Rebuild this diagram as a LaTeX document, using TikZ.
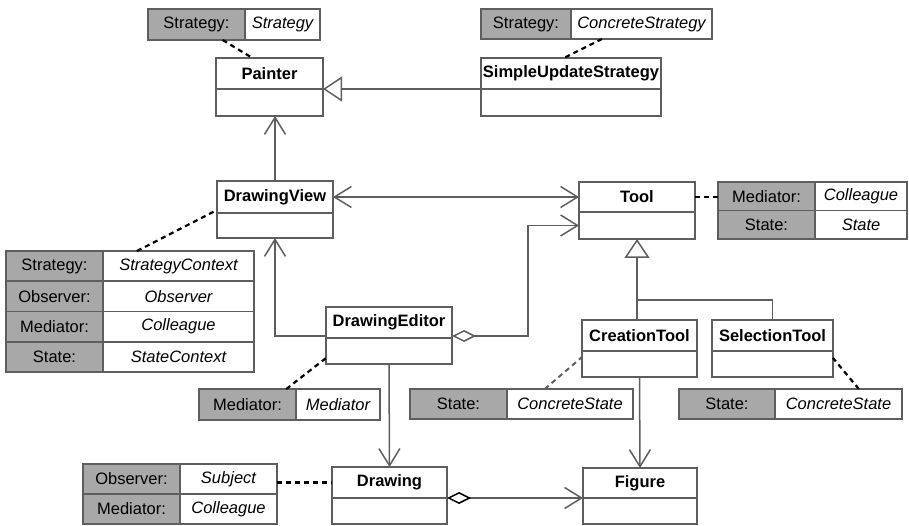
\documentclass[tikz,border=0pt]{standalone}
\usepackage{fontspec}
\setmainfont{Liberation Sans}
\usetikzlibrary{arrows.meta,calc}

\definecolor{edgegray}{HTML}{5E5E5E}
\definecolor{tagfill}{HTML}{A8A8A8}

\newcommand\labelfont{\fontsize{16.5}{19}\selectfont}

% class box: name, x, y, width, title height, body height, label
\newcommand\umlclass[7]{%
  \node[clstitle, minimum width=#4pt, minimum height=#5pt, anchor=north west] (#1) at (#2,#3) {#7};
  \node[clsbody, minimum width=#4pt, minimum height=#6pt, anchor=north] (#1-b) at (#1.south) {};
}
% tagged-value row: name, x, y, key width, value width, height, key, value
\newcommand\tagrow[8]{%
  \node[tagkey, minimum width=#4pt, minimum height=#6pt, anchor=north west] (#1k) at (#2,#3) {#7};
  \node[tagval, minimum width=#5pt, minimum height=#6pt, anchor=north west] (#1v) at (#1k.north east) {\itshape #8};
}

\tikzset{
  cell/.style={draw=edgegray, line width=1.5pt, inner sep=0pt, outer sep=0pt},
  clstitle/.style={cell, fill=white, font=\labelfont\bfseries},
  clsbody/.style={cell, fill=white},
  tagkey/.style={cell, fill=tagfill, font=\labelfont},
  tagval/.style={cell, fill=white, font=\labelfont},
  link/.style={draw=edgegray, line width=1.5pt},
  nav/.style={link, -{Straight Barb[length=17pt,width=21pt]}},
  bothnav/.style={link, {Straight Barb[length=17pt,width=21pt]}-{Straight Barb[length=17pt,width=21pt]}},
  inherit/.style={link, -{Triangle[open,length=19pt,width=25pt]}},
  tagline/.style={draw=black, line width=2.2pt, dash pattern=on 5pt off 4pt},
  lighttagline/.style={draw=edgegray, line width=2pt, dash pattern=on 5pt off 4pt},
}

\begin{document}
\begin{tikzpicture}[x=1pt, y=-1pt]
\useasboundingbox (0,0) rectangle (909,526);

% classes
\umlclass{painter}{216}{58}{107}{31}{27}{Painter}
\umlclass{sus}{481}{58}{180}{31}{27}{SimpleUpdateStrategy}
\umlclass{dv}{217}{181}{116}{32}{25}{DrawingView}
\umlclass{tool}{579}{182}{116}{30}{27}{Tool}
\umlclass{de}{326}{307}{126}{31}{26}{DrawingEditor}
\umlclass{ct}{582}{320}{115}{31}{26}{CreationTool}
\umlclass{st}{712}{320}{121}{31}{26}{SelectionTool}
\umlclass{drawing}{332}{467}{115}{31}{26}{Drawing}
\umlclass{fig}{583}{468}{114}{30}{26}{Figure}

% tagged values
\tagrow{ta}{148}{9}{97}{75}{31}{Strategy:}{Strategy}
\tagrow{tb}{481}{9}{90}{141}{30}{Strategy:}{ConcreteStrategy}
\tagrow{tca}{6}{251}{97}{151}{30.25}{Strategy:}{StrategyContext}
\tagrow{tcb}{6}{281.25}{97}{151}{30.25}{Observer:}{Observer}
\tagrow{tcc}{6}{311.5}{97}{151}{30.25}{Mediator:}{Colleague}
\tagrow{tcd}{6}{341.75}{97}{151}{30.25}{State:}{StateContext}
\tagrow{tda}{718}{182}{97}{92}{28.5}{Mediator:}{Colleague}
\tagrow{tdb}{718}{210.5}{97}{92}{28.5}{State:}{State}
\tagrow{te}{199}{389}{97}{84}{31}{Mediator:}{Mediator}
\tagrow{tf}{410}{389}{97}{126}{30}{State:}{ConcreteState}
\tagrow{tg}{679}{389}{96}{127}{30}{State:}{ConcreteState}
\tagrow{tha}{83}{464}{97}{97}{30}{Observer:}{Subject}
\tagrow{thb}{83}{494}{97}{97}{30}{Mediator:}{Colleague}

% tag links
\draw[tagline] ($(tak.south west)!0.77!(tak.south east)$) -- ($(painter.north west)!0.34!(painter.north east)$);
\draw[tagline] ($(tbv.south west)!0.22!(tbv.south east)$) -- ($(sus.north west)!0.46!(sus.north east)$);
\draw[tagline] ($(tcav.north west)!0.225!(tcav.north east)$) -- ([yshift=3pt]dv.south west);
\draw[tagline] (tool.east) -- (tool.east -| tdak.west);
\draw[tagline] ($(tek.north west)!0.9!(tek.north east)$) -- ($(de-b.north west)!0.77!(de-b.south west)$);
\draw[lighttagline] ($(tfv.north west)!0.3!(tfv.north east)$) -- ($(ct-b.north west)!0.23!(ct-b.south west)$);
\draw[tagline] ($(tgv.north west)!0.66!(tgv.north east)$) -- ($(st-b.north east)!0.27!(st-b.south east)$);
\draw[tagline] (drawing.west -| thav.east) -- (drawing.west);

% generalisations
\draw[inherit] (sus.south west) -- (painter.south east);
\coordinate (tooljoin) at ($(tool-b.south)+(0,61)$);
\draw[link] (st.north) |- (tooljoin);
\draw[inherit] (tool-b.south |- ct.north) -- (tool-b.south);

% associations
\draw[nav] (dv.north) -- (dv.north |- painter-b.south);
\draw[bothnav] (dv.east) -- (tool.west);
\draw[nav] ([yshift=2pt]de.south west) -| (dv-b.south);
\draw[link, {Diamond[open,length=24pt,width=12pt]}-{Straight Barb[length=17pt,width=21pt]}]
  ([yshift=2pt]de.south east) -- ++(76,0) |- (tool-b.west);
\draw[nav] (ct-b.south) -- (fig.north);
\draw[nav] (de-b.south) -- (drawing.north);
\draw[link, {Diamond[open,length=24pt,width=12pt,black]}-{Straight Barb[length=17pt,width=21pt]}]
  (drawing.south east) -- (fig.south west);
\end{tikzpicture}
\end{document}
